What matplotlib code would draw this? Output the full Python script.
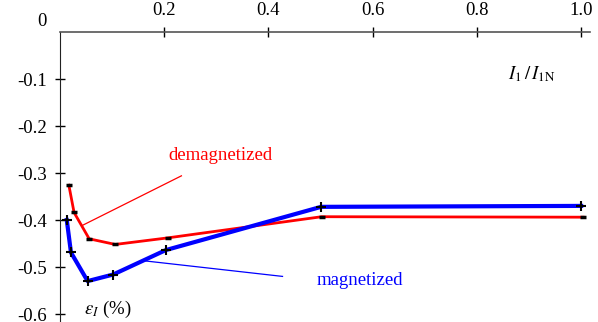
import matplotlib.pyplot as plt

# demagnetized / magnetized current-ratio error vs I1/I1N
ratio_demag = [0.017, 0.027, 0.056, 0.106, 0.207, 0.502, 1.004]
err_demag = [-0.326, -0.384, -0.440, -0.452, -0.438, -0.393, -0.394]
ratio_mag = [0.013, 0.021, 0.053, 0.102, 0.203, 0.501, 1.000]
err_mag = [-0.400, -0.469, -0.530, -0.516, -0.464, -0.372, -0.370]

xticks = [0.2, 0.4, 0.6, 0.8, 1.0]
yticks = [-0.1, -0.2, -0.3, -0.4, -0.5, -0.6]

plt.rcParams['font.family'] = ['Liberation Serif', 'DejaVu Serif']
plt.rcParams['mathtext.fontset'] = 'stix'

fig = plt.figure(figsize=(5.98, 3.22), dpi=100)
ax = fig.add_axes([60 / 598, 0, 530 / 598, 1 - 32 / 322])

ax.plot(ratio_demag, err_demag, color='#ff0000', lw=2, zorder=2)
ax.plot(ratio_demag, err_demag, ls='none', marker='_', ms=5, mew=2.5,
        color='black', zorder=3)
ax.plot(ratio_mag, err_mag, color='#0000ff', lw=3, zorder=2)
ax.plot(ratio_mag, err_mag, ls='none', marker='+', ms=7, mew=1.5,
        color='black', zorder=3)

ax.set_xlim(0, 1.017)
ax.set_ylim(-0.617, 0)

for s in ['right', 'bottom']:
    ax.spines[s].set_visible(False)
ax.spines['left'].set_color('#222222')
ax.spines['top'].set_color('#555555')
ax.spines['top'].set_linewidth(1.2)

ax.xaxis.tick_top()
ax.set_xticks(xticks)
ax.set_xticklabels(['%.1f' % v for v in xticks])
ax.set_yticks(yticks)
ax.set_yticklabels(['%.1f' % v for v in yticks])
ax.tick_params(axis='both', direction='inout', length=7, width=1,
               labelsize=13.5, pad=6)

ax.text(-0.025, 0.005, '0', fontsize=13.5, ha='right', va='bottom')

# callouts
ax.plot([0.233, 0.042], [-0.306, -0.412], color='#ff0000', lw=0.9)
ax.text(0.307, -0.262, 'demagnetized', color='#ff0000', fontsize=13.5,
        ha='center', va='center')
ax.plot([0.163, 0.427], [-0.487, -0.52], color='#0000ff', lw=0.9)
ax.text(0.576, -0.528, 'magnetized', color='#0000ff', fontsize=13.5,
        ha='center', va='center')

ax.text(0.047, -0.59, r'$\varepsilon_I$ (%)', fontsize=13.5,
        ha='left', va='center')
ax.text(0.86, -0.089, r'$I_1\,/\,I_{\rm 1N}$', fontsize=13.5,
        ha='left', va='center')

fig.savefig('out.png', dpi=100)
